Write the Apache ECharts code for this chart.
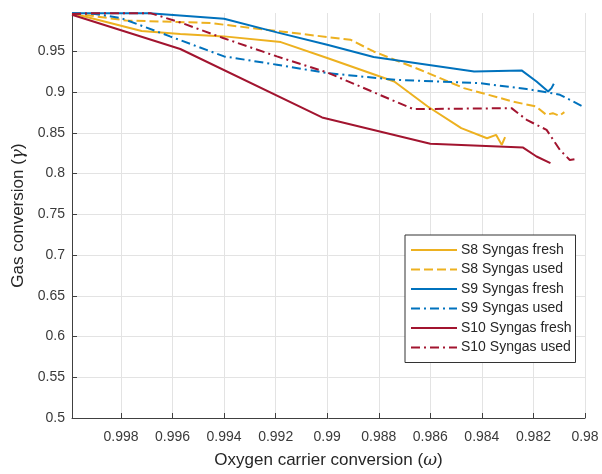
<!DOCTYPE html>
<html>
<head>
<meta charset="utf-8">
<script src="https://cdn.jsdelivr.net/npm/echarts@6/dist/echarts.min.js"></script>
<style>html,body{margin:0;padding:0;background:#fff}#c{width:602px;height:474px}</style>
</head>
<body>
<div id="c"></div>
<script>
// ---- data ----
const xTickLabels = ['0.98','0.982','0.984','0.986','0.988','0.99','0.992','0.994','0.996','0.998'];
const yTickLabels = ['0.5','0.55','0.6','0.65','0.7','0.75','0.8','0.85','0.9','0.95'];
const seriesNames = ['S8 Syngas fresh','S8 Syngas used','S9 Syngas fresh','S9 Syngas used','S10 Syngas fresh','S10 Syngas used'];

const s8FreshX = [0.9999, 0.9972, 0.9957, 0.9940, 0.9918, 0.9900, 0.9874, 0.9861, 0.9848, 0.9838, 0.98345, 0.98323, 0.9831];
const s8FreshY = [0.997, 0.975, 0.9715, 0.9685, 0.9615, 0.9419, 0.9131, 0.8824, 0.8558, 0.8435, 0.8476, 0.8353, 0.8448];

const s8UsedX = [0.9999, 0.9978, 0.9945, 0.9940, 0.9918, 0.9900, 0.9891, 0.9882, 0.9864, 0.9847, 0.9828, 0.9819, 0.9815, 0.98125, 0.9810, 0.9808];
const s8UsedY = [0.997, 0.988, 0.9849, 0.9828, 0.9746, 0.9677, 0.9644, 0.950, 0.9275, 0.905, 0.8885, 0.8824, 0.8722, 0.8742, 0.871, 0.8755];

const s9FreshX = [0.9999, 0.9969, 0.9940, 0.99195, 0.9900, 0.9882, 0.9843, 0.98246, 0.98188, 0.98143, 0.9813, 0.98121];
const s9FreshY = [0.997, 0.997, 0.9902, 0.9734, 0.9582, 0.9431, 0.9254, 0.9267, 0.9131, 0.9008, 0.905, 0.9103];

const s9UsedX = [0.9999, 0.9990, 0.9980, 0.9961, 0.9940, 0.99195, 0.9900, 0.98736, 0.98407, 0.98226, 0.98149, 0.98097, 0.98046, 0.98013];
const s9UsedY = [0.997, 0.996, 0.991, 0.9685, 0.9439, 0.9337, 0.9234, 0.9152, 0.9111, 0.9038, 0.900, 0.8968, 0.8885, 0.8832];

const s10FreshX = [0.9999, 0.9957, 0.9902, 0.9860, 0.9824, 0.98188, 0.98134];
const s10FreshY = [0.995, 0.953, 0.869, 0.8366, 0.832, 0.821, 0.813];

const s10UsedX = [0.9999, 0.9990, 0.99686, 0.9957, 0.99404, 0.99195, 0.9900, 0.98666, 0.98285, 0.98226, 0.98149, 0.98097, 0.98059, 0.9804];
const s10UsedY = [0.996, 0.997, 0.997, 0.9856, 0.9665, 0.9439, 0.9242, 0.8792, 0.8804, 0.866, 0.8537, 0.829, 0.8168, 0.8177];

// ---- build ----
const pair = (xs, ys) => xs.map((x, i) => [x, ys[i]]);
const colors = { y: '#EDB120', b: '#0072BD', r: '#A2142F' };
const dashed = [9, 4];
const dashDot = [9, 4, 2, 4];
function mk(name, xs, ys, color, type) {
  return {
    name, type: 'line', data: pair(xs, ys), symbol: 'none', showSymbol: false,
    lineStyle: { color, width: 2, type },
    itemStyle: { color },
    animation: false
  };
}
function labelFrom(list) {
  return function (v) {
    for (const s of list) { if (Math.abs(parseFloat(s) - v) < 1e-9) return s; }
    return '';
  };
}
const axisColor = '#404040';
const textColor = '#3a3a3a';
const chart = echarts.init(document.getElementById('c'), null, { renderer: 'canvas' });
chart.setOption({
  backgroundColor: '#fff',
  animation: false,
  grid: { left: 72, right: 17, top: 13, bottom: 56, containLabel: false },
  xAxis: {
    type: 'value', inverse: true, min: 0.98, max: 0.9999, interval: 0.002,
    name: 'Oxygen carrier conversion ({i|ω})', nameLocation: 'middle', nameGap: 34,
    nameTextStyle: { fontSize: 17, color: '#262626', fontFamily: 'Liberation Sans',
      rich: { i: { fontStyle: 'italic', fontSize: 17, color: '#262626', fontFamily: 'DejaVu Serif' } } },
    axisLine: { show: true, onZero: false, lineStyle: { color: axisColor, width: 1 } },
    axisTick: { show: true, inside: true, length: 5, lineStyle: { color: axisColor } },
    axisLabel: { formatter: labelFrom(xTickLabels), fontSize: 14, color: textColor, margin: 12, fontFamily: 'Liberation Sans' },
    splitLine: { show: true, showMaxLine: false, lineStyle: { color: '#e3e3e3', width: 1 } }
  },
  yAxis: {
    type: 'value', min: 0.5, max: 0.9972, interval: 0.05,
    name: 'Gas conversion ({i|γ})', nameLocation: 'middle', nameGap: 43,
    nameTextStyle: { fontSize: 17, color: '#262626', fontFamily: 'Liberation Sans',
      rich: { i: { fontStyle: 'italic', fontSize: 17, color: '#262626', fontFamily: 'DejaVu Serif' } } },
    axisLine: { show: true, onZero: false, lineStyle: { color: axisColor, width: 1 } },
    axisTick: { show: true, inside: true, length: 5, lineStyle: { color: axisColor } },
    axisLabel: { formatter: labelFrom(yTickLabels), fontSize: 14, color: textColor, margin: 7, fontFamily: 'Liberation Sans' },
    splitLine: { show: true, showMaxLine: false, lineStyle: { color: '#e3e3e3', width: 1 } }
  },
  legend: {
    orient: 'vertical', left: 405, top: 235,
    data: seriesNames,
    itemWidth: 46, itemHeight: 14, itemGap: 5.5,
    padding: [8, 4, 8, 5],
    itemStyle: { opacity: 0 },
    backgroundColor: '#fff', borderColor: '#333', borderWidth: 1,
    textStyle: { fontSize: 14, color: '#262626', fontFamily: 'Liberation Sans', padding: [0, 0, 0, -1] }
  },
  series: [
    mk(seriesNames[0], s8FreshX, s8FreshY, colors.y, 'solid'),
    mk(seriesNames[1], s8UsedX, s8UsedY, colors.y, dashed),
    mk(seriesNames[2], s9FreshX, s9FreshY, colors.b, 'solid'),
    mk(seriesNames[3], s9UsedX, s9UsedY, colors.b, dashDot),
    mk(seriesNames[4], s10FreshX, s10FreshY, colors.r, 'solid'),
    mk(seriesNames[5], s10UsedX, s10UsedY, colors.r, dashDot)
  ]
});
</script>
</body>
</html>
